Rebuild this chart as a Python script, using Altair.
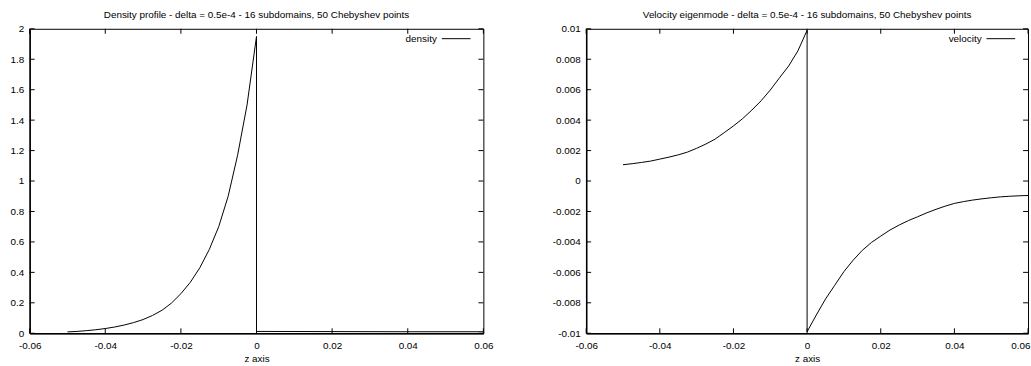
import altair as alt
import pandas as pd

# ---------------- data ----------------
# Density profile (left part up to the jump at z = 0, then the flat tail)
dens_z = [-0.05, -0.0475, -0.045, -0.0425, -0.04, -0.0375, -0.035, -0.0325, -0.03,
          -0.0275, -0.025, -0.0225, -0.02, -0.0175, -0.015, -0.0125, -0.01, -0.0075,
          -0.005, -0.0025, 0.0,
          0.0, 0.02, 0.04, 0.06]
dens_v = [0.009, 0.012, 0.017, 0.023, 0.031, 0.041, 0.054, 0.07, 0.09,
          0.117, 0.151, 0.198, 0.26, 0.335, 0.43, 0.55, 0.70, 0.90,
          1.17, 1.5, 1.95,
          0.012, 0.011, 0.010, 0.010]

# Velocity eigenmode (left branch, jump at z = 0, right branch)
vel_z = [-0.05, -0.0475, -0.045, -0.0425, -0.04, -0.0375, -0.035, -0.0325, -0.03,
         -0.0275, -0.025, -0.0225, -0.02, -0.0175, -0.015, -0.0125, -0.01, -0.0075,
         -0.005, -0.0025, 0.0,
         0.0, 0.0025, 0.005, 0.0075, 0.01, 0.0125, 0.015, 0.0175, 0.02, 0.0225, 0.025,
         0.0275, 0.03, 0.0325, 0.035, 0.0375, 0.04, 0.0425, 0.045, 0.0475, 0.05,
         0.0525, 0.055, 0.0575, 0.06]
vel_v = [0.00107, 0.00114, 0.00122, 0.00131, 0.00144, 0.00157, 0.00172, 0.0019, 0.00215,
         0.00243, 0.00275, 0.00318, 0.00362, 0.0041, 0.00466, 0.00527, 0.00598, 0.00678,
         0.00756, 0.00855, 0.0099,
         -0.0099, -0.0088, -0.00775, -0.00685, -0.00595, -0.0052, -0.00455, -0.00403,
         -0.00362, -0.00322, -0.00289, -0.0026, -0.00235, -0.00209, -0.00186, -0.00165,
         -0.00147, -0.00135, -0.00125, -0.00117, -0.0011, -0.00104, -0.001, -0.00097,
         -0.00095]

x_ticks = [-0.06, -0.04, -0.02, 0.0, 0.02, 0.04, 0.06]
dens_ticks = [0.0, 0.2, 0.4, 0.6, 0.8, 1.0, 1.2, 1.4, 1.6, 1.8, 2.0]
vel_ticks = [-0.01, -0.008, -0.006, -0.004, -0.002, 0.0, 0.002, 0.004, 0.006, 0.008, 0.01]

dens_title = "Density profile - delta = 0.5e-4 - 16 subdomains, 50 Chebyshev points"
vel_title = "Velocity eigenmode - delta = 0.5e-4 - 16 subdomains, 50 Chebyshev points"

FONT = "Liberation Sans"
H = 308
TICK = 5
LABEL_EXPR = "datum.value < 0 ? '-' + format(-datum.value, '~g') : format(datum.value, '~g')"


def panel(zs, vs, title, legend, W, ydomain, yticks, yext, keep_last_inside=False):
    df = pd.DataFrame({"z": zs, "v": vs, "i": list(range(len(zs)))})
    xs = alt.Scale(domain=[-0.06, 0.06], nice=False, zero=False)
    ys = alt.Scale(domain=ydomain, nice=False, zero=False)
    xaxis_kw = dict(
        values=x_ticks, title="z axis", labelExpr=LABEL_EXPR, ticks=False,
        grid=False, domainColor="black", domainWidth=1.5, labelPadding=7,
        titlePadding=4, labelFlush=False, labelOverlap=False)
    if keep_last_inside:
        xaxis_kw["labelAlign"] = {"condition": {"test": "datum.value > 0.059", "value": "right"},
                                  "value": "center"}
        xaxis_kw["labelOffset"] = {"condition": {"test": "datum.value > 0.059", "value": 2},
                                   "value": 0}
    line = alt.Chart(df).mark_line(color="black", strokeWidth=1, clip=True).encode(
        x=alt.X("z:Q", scale=xs, axis=alt.Axis(**xaxis_kw)),
        y=alt.Y("v:Q", scale=ys, axis=alt.Axis(
            values=yticks, title=None, labelExpr=LABEL_EXPR, ticks=False, grid=False,
            domainColor="black", domainWidth=1.5, labelPadding=6, labelFlush=False,
            labelOverlap=False, minExtent=yext, maxExtent=yext)),
        order="i:Q",
    )
    xt = pd.DataFrame({"t": x_ticks})
    yt = pd.DataFrame({"t": yticks})
    bottom = alt.Chart(xt).mark_rule(color="black", strokeWidth=1).encode(
        x=alt.X("t:Q", scale=xs, axis=None), y=alt.value(H), y2=alt.value(H - TICK))
    top = alt.Chart(xt).mark_rule(color="black", strokeWidth=1).encode(
        x=alt.X("t:Q", scale=xs, axis=None), y=alt.value(0), y2=alt.value(TICK))
    left = alt.Chart(yt).mark_rule(color="black", strokeWidth=1).encode(
        y=alt.Y("t:Q", scale=ys, axis=None), x=alt.value(0), x2=alt.value(TICK))
    right = alt.Chart(yt).mark_rule(color="black", strokeWidth=1).encode(
        y=alt.Y("t:Q", scale=ys, axis=None), x=alt.value(W), x2=alt.value(W - TICK))
    leg_df = pd.DataFrame({"label": [legend]})
    leg_text = alt.Chart(leg_df).mark_text(
        align="right", baseline="middle", fontSize=10, font=FONT, color="black").encode(
        x=alt.value(W - 47), y=alt.value(10), text="label:N")
    leg_line = alt.Chart(leg_df).mark_rule(color="black", strokeWidth=1).encode(
        x=alt.value(W - 42), x2=alt.value(W - 13), y=alt.value(10))
    return alt.layer(line, bottom, top, left, right, leg_text, leg_line).resolve_axis(
        x="independent", y="independent"
    ).properties(
        width=W, height=H,
        title=alt.TitleParams(text=title, fontSize=10, font=FONT, fontWeight="normal",
                              color="black", anchor="middle", offset=4),
    )


p1 = panel(dens_z, dens_v, dens_title, "density", 459, [0, 2], dens_ticks, 29)
p2 = panel(vel_z, vel_v, vel_title, "velocity", 447, [-0.01, 0.01], vel_ticks, 40,
           keep_last_inside=True)

chart = alt.hconcat(p1, p2, spacing=52).properties(
    padding={"left": 0, "top": 7, "right": 0, "bottom": 0}
).configure_view(stroke="black", strokeWidth=1).configure_axis(
    labelFont=FONT, titleFont=FONT, labelFontSize=10, titleFontSize=10,
    labelColor="black", titleColor="black", titleFontWeight="normal"
)

chart.save("out.html", embed_options={"renderer": "svg", "actions": False})
